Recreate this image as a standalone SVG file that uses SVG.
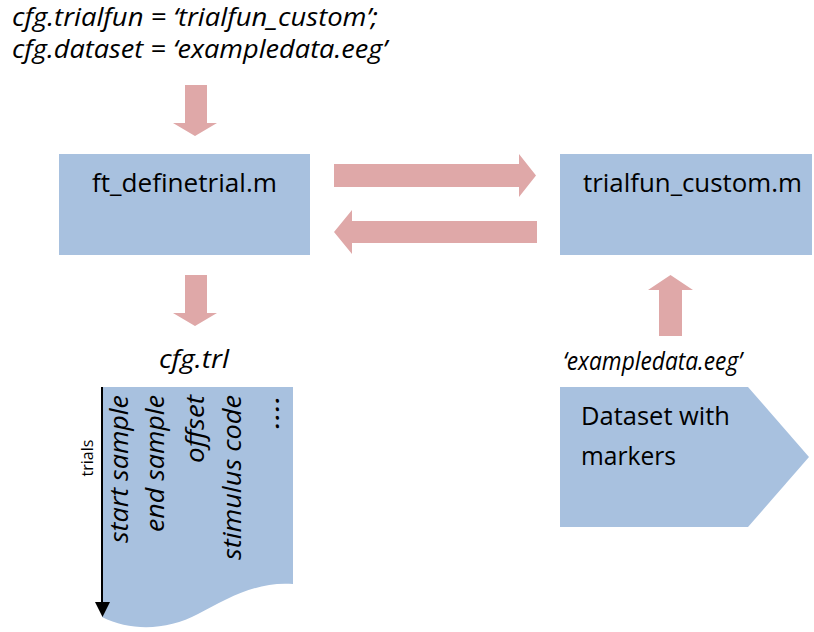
<svg xmlns="http://www.w3.org/2000/svg" width="814" height="632" viewBox="0 0 814 632">
  <style>
    .txt { font-family: "Open Sans", "Liberation Sans", sans-serif; fill: #000; }
    .it { font-style: italic; }
    .big { font-size: 25px; }
    .col { font-size: 25px; font-style: italic; }
    .box { fill: #A8C1DF; }
    .flow { fill: #DFA8A8; }
  </style>

  <rect width="814" height="632" fill="#ffffff"/>

  <!-- configuration lines -->
  <g id="config">
    <text class="txt it big" x="12" y="26" textLength="366" lengthAdjust="spacingAndGlyphs">cfg.trialfun = ‘trialfun_custom’;</text>
    <text class="txt it big" x="12" y="58" textLength="375" lengthAdjust="spacingAndGlyphs">cfg.dataset = ‘exampledata.eeg’</text>
  </g>

  <!-- block arrows -->
  <g id="connectors">
    <polygon class="flow" points="185,85 207,85 207,123 217,123 195,136 173,123 185,123"/>
    <polygon class="flow" points="334,164 519,164 519,154 536,175.5 519,197 519,187 334,187"/>
    <polygon class="flow" points="537,221 352,221 352,210 334,232 352,254 352,243 537,243"/>
    <polygon class="flow" points="185,275 207,275 207,313 217,313 195,326 173,313 185,313"/>
    <polygon class="flow" points="659,336 682,336 682,290 693,290 670.5,275 648,290 659,290"/>
  </g>

  <g id="ft_definetrial">
    <rect class="box" x="59" y="154" width="251" height="101"/>
    <text class="txt big" x="92" y="192" textLength="185" lengthAdjust="spacingAndGlyphs">ft_definetrial.m</text>
  </g>

  <g id="trialfun_custom">
    <rect class="box" x="560" y="154" width="252" height="101"/>
    <text class="txt big" x="583" y="192" textLength="219" lengthAdjust="spacingAndGlyphs">trialfun_custom.m</text>
  </g>

  <g id="cfg_trl_label">
    <text class="txt it big" x="159" y="368" textLength="70" lengthAdjust="spacingAndGlyphs">cfg.trl</text>
  </g>

  <g id="dataset_label">
    <text class="txt it big" x="563" y="370" textLength="179" lengthAdjust="spacingAndGlyphs">‘exampledata.eeg’</text>
  </g>

  <!-- trial definition matrix (document shape) -->
  <g id="trl_matrix">
    <path class="box" d="M102,387 H293 V584 C258,581 228,598 198,614 C168,630 132,632 102,617 Z"/>
    <line x1="102" y1="387" x2="102" y2="603" stroke="#000" stroke-width="2"/>
    <polygon points="95,602 110,602 102.5,617" fill="#000"/>
    <text class="txt" font-size="16" transform="translate(93,458) rotate(-90)" text-anchor="middle">trials</text>
    <text class="txt col" transform="translate(128,395) rotate(-90)" text-anchor="end" textLength="148" lengthAdjust="spacingAndGlyphs">start sample</text>
    <text class="txt col" transform="translate(164,395) rotate(-90)" text-anchor="end" textLength="137" lengthAdjust="spacingAndGlyphs">end sample</text>
    <text class="txt col" transform="translate(204,395) rotate(-90)" text-anchor="end" textLength="68" lengthAdjust="spacingAndGlyphs">offset</text>
    <text class="txt col" transform="translate(241,395) rotate(-90)" text-anchor="end" textLength="165" lengthAdjust="spacingAndGlyphs">stimulus code</text>
    <text class="txt col" transform="translate(279,395) rotate(-90)" text-anchor="end" textLength="34" lengthAdjust="spacingAndGlyphs">....</text>
  </g>

  <!-- raw data file (pentagon) -->
  <g id="dataset">
    <polygon class="box" points="560,387 748,387 809,457 748,527 560,527"/>
    <text class="txt big" x="581" y="425" textLength="149" lengthAdjust="spacingAndGlyphs">Dataset with</text>
    <text class="txt big" x="581" y="465" textLength="95" lengthAdjust="spacingAndGlyphs">markers</text>
  </g>
</svg>
